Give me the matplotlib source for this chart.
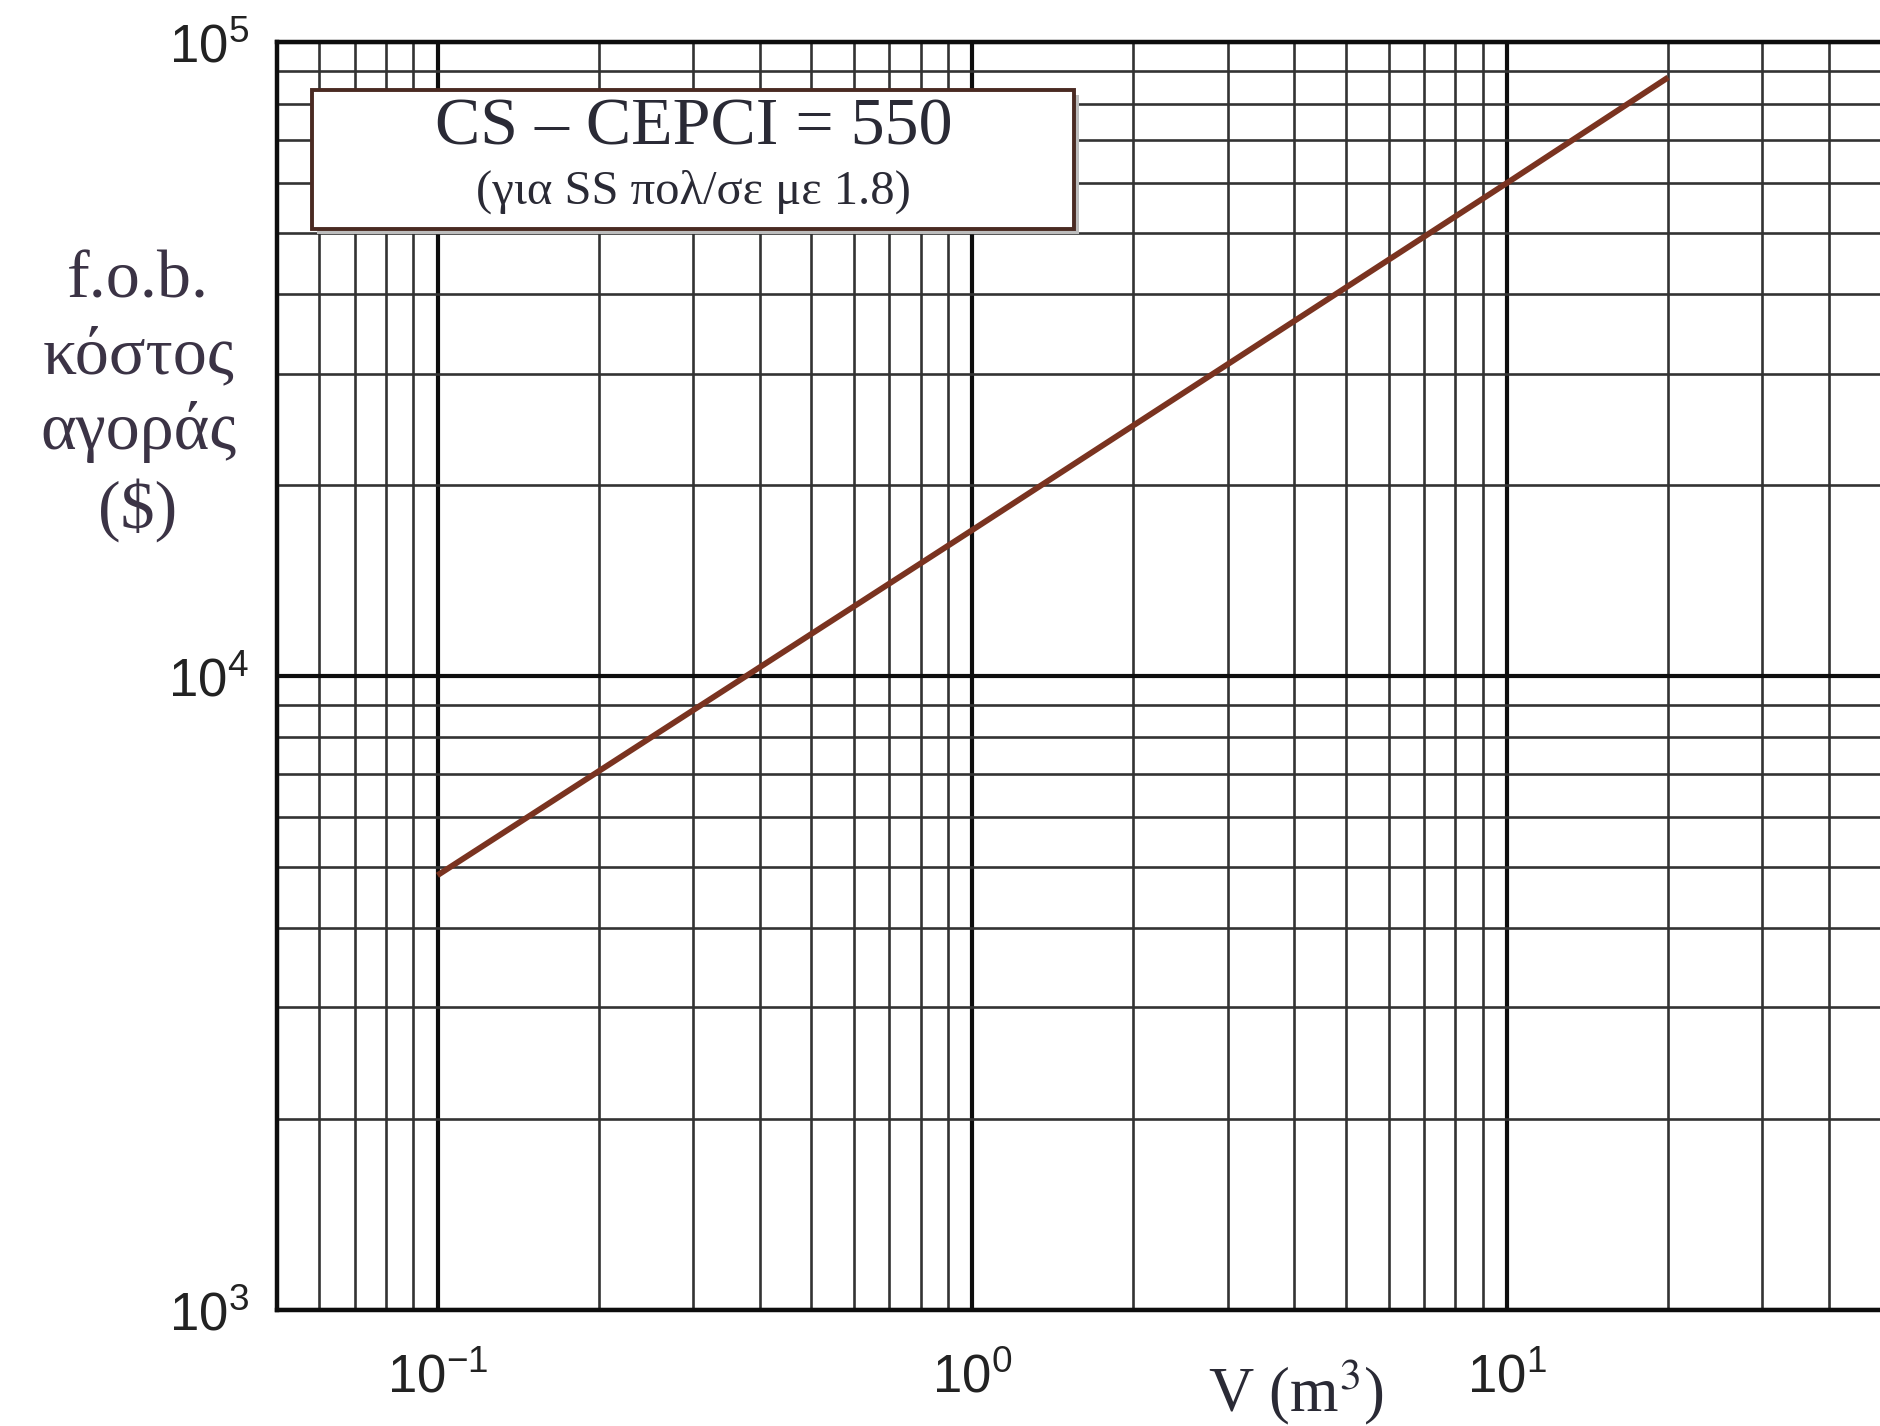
import numpy as np
import matplotlib
matplotlib.use("Agg")
import matplotlib.pyplot as plt
from matplotlib.patches import Rectangle
from matplotlib.ticker import LogLocator, NullFormatter

plt.rcParams['mathtext.fontset'] = 'custom'
plt.rcParams['mathtext.rm'] = 'Liberation Sans'
plt.rcParams['mathtext.it'] = 'Liberation Sans'

volume = [0.1, 1.0, 10.0, 20.0]          # V (m^3)
cost = [4850, 17000, 60000, 88000]       # f.o.b. cost ($)
x_ticks = [0.1, 1.0, 10.0]
x_tick_labels = [r'$10^{-1}$', r'$10^{0}$', r'$10^{1}$']
y_ticks = [1e3, 1e4, 1e5]
y_tick_labels = [r'$10^{3}$', r'$10^{4}$', r'$10^{5}$']
box_title = "CS – CEPCI = 550"
box_note = "(για SS πολ/σε με 1.8)"
y_label = "f.o.b.\nκόστος\nαγοράς\n($)"
x_label = r"V (m$^3$)"

fig = plt.figure(figsize=(18.81, 14.26), dpi=100)
ax = fig.add_axes([0.147, 0.0814, 0.853, 0.889])

ax.set_xscale("log")
ax.set_yscale("log")
ax.set_xlim(0.05, 50)
ax.set_ylim(1e3, 1e5)

ax.xaxis.set_minor_locator(LogLocator(base=10, subs=np.arange(2, 10)))
ax.yaxis.set_minor_locator(LogLocator(base=10, subs=np.arange(2, 10)))
ax.xaxis.set_minor_formatter(NullFormatter())
ax.yaxis.set_minor_formatter(NullFormatter())

ax.grid(which="major", color="#0d0d0d", linewidth=3.0, zorder=1)
ax.grid(which="minor", color="#333333", linewidth=1.9, zorder=1)
ax.set_axisbelow(True)

for s in ["left", "bottom", "top"]:
    ax.spines[s].set_linewidth(3.2)
    ax.spines[s].set_color("#0d0d0d")
ax.spines["right"].set_visible(False)

ax.set_xticks(x_ticks, labels=x_tick_labels)
ax.set_yticks(y_ticks, labels=y_tick_labels)
ax.tick_params(which="both", length=0)
ax.tick_params(axis="x", pad=30, labelsize=38, labelcolor="#222222")
ax.tick_params(axis="y", pad=20, labelsize=38, labelcolor="#222222")

ax.plot(volume, cost, color="#7a3320", linewidth=4.2, zorder=3,
        solid_capstyle="butt")

# annotation box
shadow = Rectangle((0.0254, 0.849), 0.4746, 0.109, transform=ax.transAxes,
                   facecolor="#bdbdbd", edgecolor="none", zorder=4)
ax.add_patch(shadow)
box = Rectangle((0.0224, 0.853), 0.4746, 0.109, transform=ax.transAxes,
                facecolor="white", edgecolor="#4a2a22", linewidth=2.8,
                zorder=5)
ax.add_patch(box)
ax.text(0.260, 0.932, box_title, transform=ax.transAxes, ha="center",
        va="center", fontsize=49, family="Liberation Serif",
        color="#2a2a35", zorder=6)
ax.text(0.260, 0.882, box_note, transform=ax.transAxes, ha="center",
        va="center", fontsize=35, family="Liberation Serif",
        color="#2a2a35", zorder=6)

fig.text(0.0734, 0.722, y_label, ha="center", va="center",
         multialignment="center", fontsize=49, family="Liberation Serif",
         color="#3b3345", linespacing=1.3)
fig.text(0.689, 0.024, x_label, ha="center", va="center", fontsize=45,
         family="Liberation Serif", color="#2a2a35", math_fontfamily="stix")

fig.savefig("out.png", dpi=100, facecolor="white")
